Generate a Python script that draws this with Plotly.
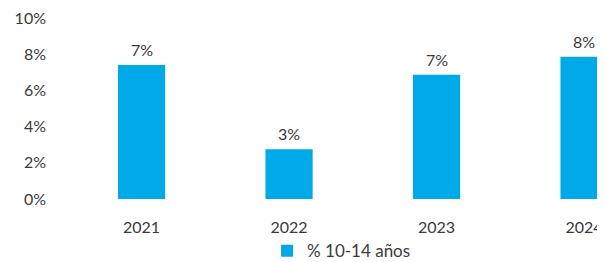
import plotly.graph_objects as go

years = ["2021", "2022", "2023", "2024"]
values = [7.4, 2.75, 6.87, 7.86]
series_name = "% 10-14 años"
y_ticks = [0, 2, 4, 6, 8, 10]
y_tick_labels = [f"{t}%" for t in y_ticks]

FONT = "Lato, 'Open Sans', sans-serif"
TXT = "#3a3a3a"
BLUE = "#00A9E8"
FS = 16

xs = list(range(len(years)))

fig = go.Figure()
fig.add_trace(go.Bar(
    x=xs, y=values, name=series_name,
    marker=dict(color=BLUE, line=dict(width=0)),
    width=0.32,
    showlegend=True,
))

for x, v in zip(xs, values):
    fig.add_annotation(
        x=x, y=v, text=f"{v:.0f}%", showarrow=False,
        xanchor="center", yanchor="bottom", yshift=4,
        font=dict(family=FONT, size=FS, color=TXT),
    )

fig.update_layout(
    width=605, height=262,
    margin=dict(l=52, r=8, t=10, b=71),
    paper_bgcolor="white", plot_bgcolor="white",
    font=dict(family=FONT, size=FS, color=TXT),
    xaxis=dict(
        range=[-0.553, 3.142],
        tickvals=xs, ticktext=years,
        showgrid=False, zeroline=False, showline=False,
        ticks="", ticklabelstandoff=17, ticklabeloverflow="allow",
        tickfont=dict(family=FONT, size=FS, color=TXT),
        automargin=False, fixedrange=True,
    ),
    yaxis=dict(
        range=[0, 10],
        tickvals=y_ticks, ticktext=y_tick_labels,
        showgrid=False, zeroline=False, showline=False,
        ticks="", ticklabelstandoff=13, ticklabeloverflow="allow",
        tickfont=dict(family=FONT, size=FS, color=TXT),
        automargin=False, fixedrange=True,
    ),
    legend=dict(
        orientation="h", x=0.38, xanchor="left",
        yref="container", y=0.072, yanchor="middle",
        font=dict(family=FONT, size=17, color=TXT),
        itemwidth=30,
    ),
    showlegend=True,
)

fig.write_html("out.html")
